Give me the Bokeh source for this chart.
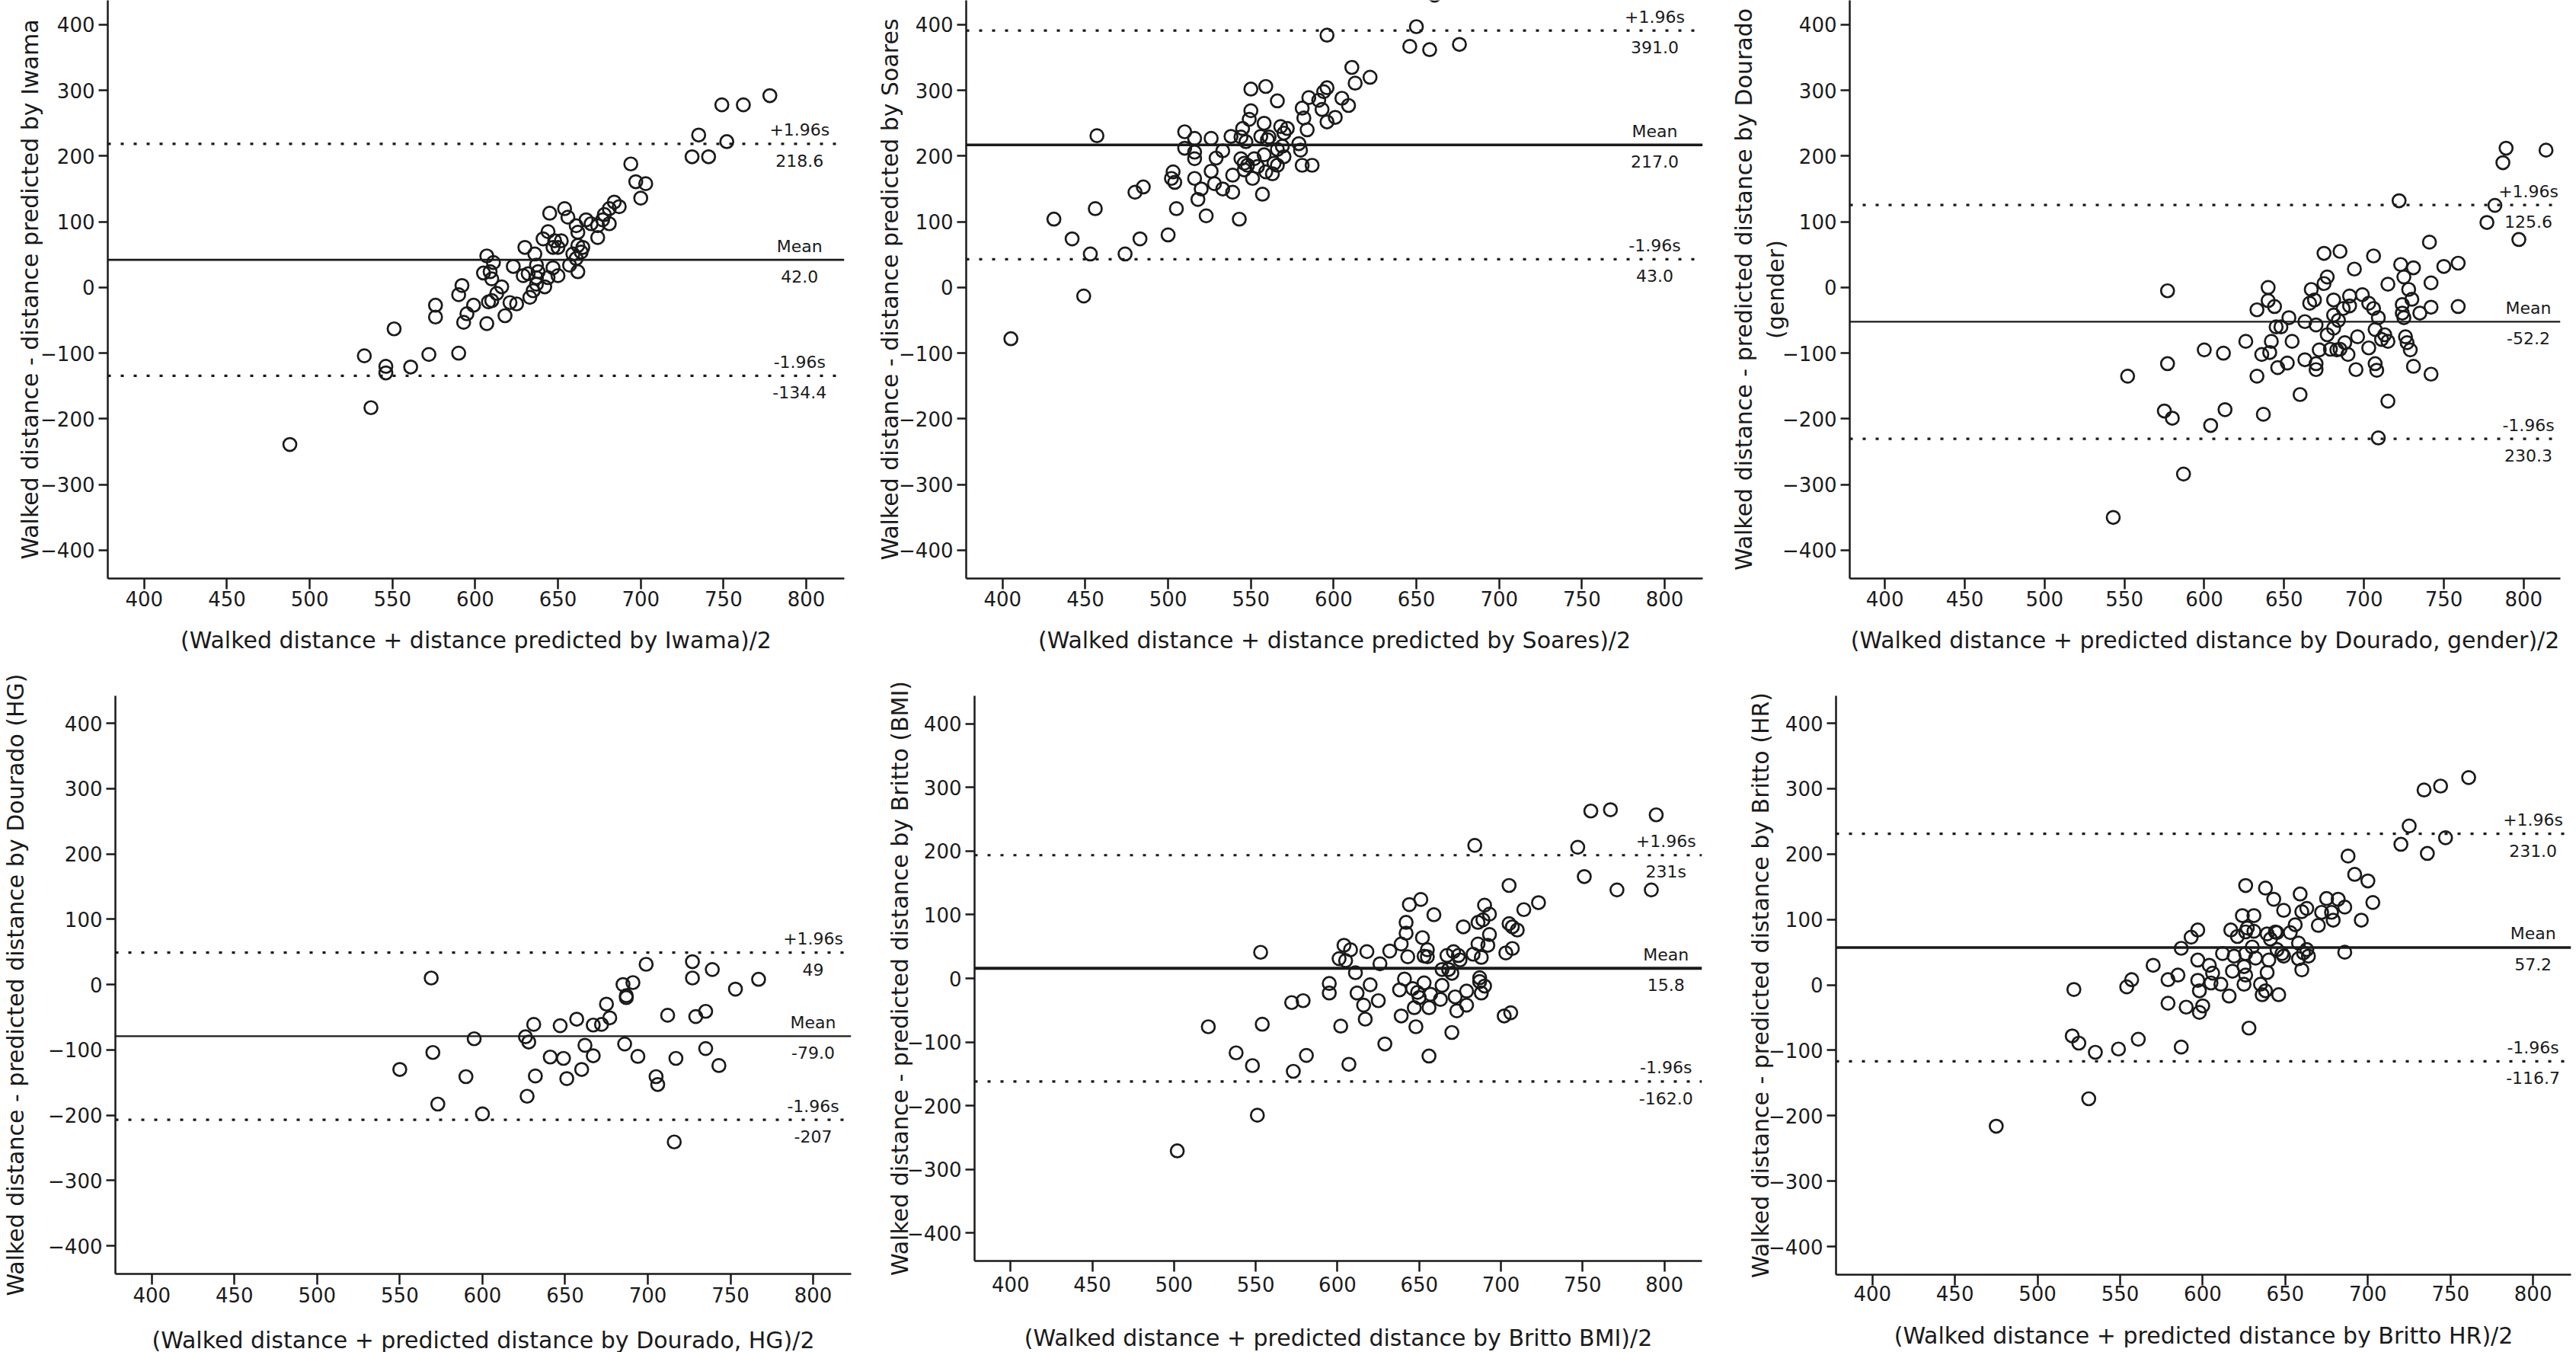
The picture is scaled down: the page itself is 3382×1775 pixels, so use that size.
from bokeh.plotting import figure
from bokeh.layouts import column, row
from bokeh.models import Span, FixedTicker, Label
from bokeh.embed import file_html
from bokeh.resources import INLINE

# ---------------- data ----------------
X_TICKS = [400, 450, 500, 550, 600, 650, 700, 750, 800]
Y_TICKS = [-400, -300, -200, -100, 0, 100, 200, 300, 400]
Y_TICK_LABELS = ["\u2212400", "\u2212300", "\u2212200", "\u2212100", "0", "100", "200", "300", "400"]

iwama_x = [488, 533, 537, 546, 546, 551, 561, 572, 576, 576, 590, 590, 592, 593, 595, 599, 607, 605, 607, 608,
           610, 609, 611, 610, 613, 616, 618, 621, 625, 623, 630, 629, 632, 633, 635, 637, 637, 636, 637, 638,
           641, 642, 644, 645, 644, 647, 647, 648, 650, 650, 652, 654, 656, 657, 659, 661, 661, 662, 662, 662,
           664, 665, 667, 670, 674, 674, 677, 678, 681, 681, 684, 687, 694, 697, 700, 703, 731, 735, 741, 749,
           752, 762, 778]
iwama_y = [-239, -104, -183, -120, -130, -63, -121, -102, -27, -45, -100, -11, 3, -53, -40, -27, 48, 22, -55, -22,
           -20, 24, 38, 13, -9, 1, -43, -23, -25, 32, 61, 18, 21, -15, -5, 5, 15, 51, 34, 24,
           74, 1, 85, 113, 15, 30, 61, 71, 61, 18, 71, 120, 107, 34, 51, 44, 94, 84, 24, 64,
           54, 61, 103, 97, 76, 94, 103, 111, 97, 120, 130, 123, 188, 161, 136, 158, 199, 232, 199, 278,
           222, 278, 292]

soares_x = [405, 431, 442, 449, 453, 456, 457, 474, 480, 483, 485, 500, 502, 503, 504, 505, 510, 510, 516, 516,
            516, 516, 518, 520, 523, 526, 526, 528, 529, 533, 533, 538, 539, 539, 543, 544, 544, 545, 546, 546,
            547, 548, 549, 550, 550, 551, 552, 554, 556, 557, 558, 558, 559, 559, 560, 561, 563, 564, 566, 566,
            566, 568, 569, 570, 570, 572, 579, 580, 581, 581, 582, 584, 585, 587, 591, 593, 594, 596, 596, 596,
            601, 605, 609, 611, 613, 622, 646, 650, 658, 661, 676]
soares_y = [-78, 104, 74, -13, 51, 120, 231, 51, 145, 74, 153, 80, 166, 176, 160, 120, 237, 212, 227, 206,
            196, 166, 134, 150, 109, 227, 177, 158, 197, 208, 150, 230, 145, 171, 104, 196, 229, 242, 189, 179,
            222, 186, 256, 269, 302, 166, 196, 184, 230, 142, 202, 250, 306, 176, 225, 229, 173, 189, 284, 210,
            186, 245, 215, 235, 199, 242, 219, 209, 273, 186, 258, 240, 289, 186, 285, 271, 298, 304, 252, 384,
            259, 288, 277, 335, 311, 320, 367, 397, 362, 445, 370]

dgender_x = [543, 552, 575, 577, 577, 580, 587, 600, 604, 612, 613, 626, 633, 633, 636, 637, 640, 640, 641, 642,
             644, 645, 646, 648, 652, 653, 655, 660, 663, 663, 666, 667, 669, 670, 670, 670, 672, 675, 675, 677,
             677, 679, 681, 681, 681, 683, 684, 685, 685, 687, 688, 690, 691, 691, 694, 696, 695, 699, 703, 703,
             706, 706, 707, 708, 707, 709, 709, 711, 713, 715, 715, 715, 722, 723, 724, 724, 725, 725, 726, 727,
             728, 729, 730, 731, 731, 735, 741, 742, 742, 742, 750, 759, 759, 777, 782, 787, 789, 797, 814]
dgender_y = [-350, -135, -188, -116, -5, -199, -284, -95, -210, -100, -186, -82, -135, -34, -102, -193, 0, -20, -99, -82,
             -29, -60, -122, -60, -115, -46, -82, -163, -52, -110, -24, -3, -19, -57, -116, -125, -95, 6, 52, 16,
             -72, -94, -19, -42, -62, -95, -50, 55, -94, -32, -84, -102, -13, -28, 28, -75, -125, -11, -24, -92,
             48, -32, -116, -126, -64, -46, -229, -79, -72, -173, 5, -82, 132, 35, -26, -39, -46, 16, -75, -84,
             -3, -95, -18, 30, -120, -39, 69, 7, -30, -132, 32, 37, -29, 99, 125, 190, 212, 73, 209]

dhg_x = [550, 569, 570, 573, 590, 595, 600, 626, 627, 628, 631, 632, 641, 647, 649, 651, 657, 660, 662, 667,
         667, 672, 675, 677, 685, 686, 687, 687, 691, 694, 699, 705, 706, 712, 717, 716, 727, 727, 729, 735,
         735, 739, 743, 753, 767]
dhg_y = [-130, 10, -104, -183, -141, -83, -198, -80, -171, -88, -61, -140, -111, -63, -113, -144, -53, -130, -93, -62,
         -109, -61, -30, -51, 0, -91, -20, -17, 3, -110, 31, -141, -153, -47, -113, -241, 10, 35, -49, -98,
         -41, 23, -124, -7, 8]

bmi_x = [502, 521, 538, 548, 551, 553, 554, 572, 573, 579, 581, 595, 595, 601, 602, 604, 605, 607, 608, 611,
         612, 616, 617, 618, 620, 625, 626, 629, 632, 638, 639, 639, 641, 642, 642, 643, 644, 646, 647, 648,
         649, 650, 651, 652, 653, 653, 655, 655, 656, 656, 657, 659, 663, 664, 664, 667, 668, 670, 670, 671,
         672, 673, 674, 675, 677, 679, 679, 683, 684, 686, 686, 687, 687, 688, 688, 689, 690, 690, 692, 693,
         693, 702, 703, 705, 705, 706, 707, 707, 710, 714, 723, 747, 751, 755, 767, 771, 792, 795]
bmi_y = [-271, -76, -117, -137, -215, 41, -72, -38, -146, -35, -121, -8, -23, 31, -75, 52, 28, -135, 45, 9,
         -23, -42, -64, 42, -10, -35, 23, -103, 43, -18, -59, 54, -1, 88, 71, 34, 116, -16, -46, -76,
         -22, -30, 124, 64, 35, -7, 45, 34, -122, -46, -25, 100, -33, -11, 14, 36, 14, -85, 8, 42,
         -29, -51, 36, 29, 81, -20, -42, 38, 209, 88, 54, 1, -5, -23, 33, 92, -12, 115, 52, 101,
         69, -59, 40, 146, 86, -54, 81, 47, 76, 108, 119, 206, 160, 263, 265, 139, 139, 257]

hr_x = [475, 521, 522, 525, 531, 535, 549, 554, 557, 561, 570, 579, 579, 585, 587, 587, 590, 593, 597, 597,
        597, 598, 598, 600, 604, 605, 606, 611, 612, 616, 617, 618, 619, 621, 624, 625, 625, 626, 626, 626,
        626, 627, 628, 630, 631, 631, 632, 635, 636, 638, 638, 639, 639, 640, 641, 643, 644, 645, 645, 646,
        648, 649, 649, 653, 656, 658, 658, 659, 660, 660, 661, 663, 663, 664, 670, 672, 675, 678, 679, 682,
        686, 686, 688, 692, 696, 700, 703, 720, 725, 736, 734, 744, 747, 761]
hr_y = [-216, -78, -7, -89, -174, -103, -98, -3, 8, -83, 30, -28, 8, 15, -95, 56, -34, 73, 38, 84,
        7, -9, -42, -32, 30, 3, 18, 1, 48, -17, 84, 21, 44, 74, 106, 28, 1, 152, 81, 15,
        48, 87, -66, 58, 82, 106, 41, 1, -15, 148, -9, 78, 19, 38, 70, 131, 81, 54, 80, -15,
        48, 114, 44, 80, 92, 40, 64, 139, 112, 23, 49, 54, 117, 44, 91, 111, 132, 111, 99, 131,
        119, 50, 197, 169, 99, 159, 126, 215, 243, 201, 298, 304, 225, 317]

# limits of agreement: [+1.96s, mean, -1.96s]
iwama_lines = [218.6, 42.0, -134.4]
soares_lines = [391.0, 217.0, 43.0]
dgender_lines = [125.6, -52.2, -230.3]
dhg_lines = [49.0, -79.0, -207.0]
bmi_lines = [193.6, 15.8, -162.0]
hr_lines = [231.0, 57.2, -116.7]

line_names = ["+1.96s", "Mean", "-1.96s"]
iwama_values = ["218.6", "42.0", "-134.4"]
soares_values = ["391.0", "217.0", "43.0"]
dgender_values = ["125.6", "-52.2", "230.3"]
dhg_values = ["49", "-79.0", "-207"]
bmi_values = ["231s", "15.8", "-162.0"]
hr_values = ["231.0", "57.2", "-116.7"]

x_titles = [
    "(Walked distance + distance predicted by Iwama)/2",
    "(Walked distance + distance predicted by Soares)/2",
    "(Walked distance + predicted distance by Dourado, gender)/2",
    "(Walked distance + predicted distance by Dourado, HG)/2",
    "(Walked distance + predicted distance by Britto BMI)/2",
    "(Walked distance + predicted distance by Britto HR)/2",
]
y_titles = [
    "Walked distance - distance predicted by Iwama",
    "Walked distance - distance predicted by Soares",
    "Walked distance - predicted distance by Dourado\n(gender)",
    "Walked distance - predicted distance by Dourado (HG)",
    "Walked distance - predicted distance by Britto (BMI)",
    "Walked distance - predicted distance by Britto (HR)",
]

# ---------------- styling / layout ----------------
FONT = "DejaVu Sans"
INK = "#1a1a1a"
X_RANGE = (378, 823)

# geometry per panel: frame size, borders, y-range, label x centre, mean line width,
# y-title standoff, x tick-label standoff, x-title standoff
GEO = [
    dict(fw=967, fh=759, bl=141, br=8, bt=0, bb=95, yr=(-443, 437), lx=796, mw=2.8, ys=-7, xs=2, xts=24),
    dict(fw=967, fh=759, bl=152, br=8, bt=0, bb=95, yr=(-443, 437), lx=794, mw=3.5, ys=-9, xs=2, xts=24),
    dict(fw=933, fh=759, bl=185, br=3, bt=0, bb=95, yr=(-443, 437), lx=803, mw=2.2, ys=-12, xs=2, xts=24),
    dict(fw=966, fh=759, bl=140, br=8, bt=49, bb=97, yr=(-443, 442), lx=800, mw=2.2, ys=22, xs=3, xts=29),
    dict(fw=955, fh=742, bl=154, br=8, bt=53, bb=110, yr=(-444, 444), lx=801, mw=4.0, ys=-11, xs=6, xts=40),
    dict(fw=965, fh=760, bl=168, br=1, bt=49, bb=96, yr=(-443, 442), lx=800, mw=3.5, ys=-10, xs=0, xts=25),
]


def make_panel(xs, ys, lines, values, x_title, y_title, g):
    p = figure(frame_width=g["fw"], frame_height=g["fh"], x_range=X_RANGE, y_range=g["yr"],
               output_backend="svg", toolbar_location=None,
               min_border_left=g["bl"], min_border_right=g["br"],
               min_border_top=g["bt"], min_border_bottom=g["bb"])
    p.outline_line_color = None
    p.xgrid.visible = False
    p.ygrid.visible = False
    p.background_fill_color = "white"
    p.border_fill_color = "white"

    p.xaxis.ticker = FixedTicker(ticks=X_TICKS)
    p.yaxis.ticker = FixedTicker(ticks=Y_TICKS)
    p.yaxis.major_label_overrides = {t: lab for t, lab in zip(Y_TICKS, Y_TICK_LABELS)}
    for ax in (p.xaxis, p.yaxis):
        ax.axis_line_width = 2.5
        ax.axis_line_color = INK
        ax.major_tick_line_width = 2.5
        ax.major_tick_line_color = INK
        ax.major_tick_in = 0
        ax.minor_tick_line_color = None
        ax.major_label_text_font = FONT
        ax.major_label_text_font_size = "26px"
        ax.major_label_text_color = INK
        ax.axis_label_text_font = FONT
        ax.axis_label_text_font_size = "30px"
        ax.axis_label_text_font_style = "normal"
        ax.axis_label_text_color = INK
    p.xaxis.major_tick_out = 14
    p.yaxis.major_tick_out = 12
    p.xaxis.major_label_standoff = g["xs"]
    p.yaxis.major_label_standoff = 5
    p.xaxis.axis_label_standoff = g["xts"]
    p.yaxis.axis_label_standoff = g["ys"]
    p.xaxis.axis_label = x_title
    p.yaxis.axis_label = y_title

    # limits of agreement and mean
    p.add_layout(Span(location=lines[0], dimension="width", line_color=INK,
                      line_width=3.2, line_dash="4 13"))
    p.add_layout(Span(location=lines[1], dimension="width", line_color=INK,
                      line_width=g["mw"]))
    p.add_layout(Span(location=lines[2], dimension="width", line_color=INK,
                      line_width=3.2, line_dash="4 13"))

    p.scatter(xs, ys, marker="circle", size=17, fill_color=None,
              line_color=INK, line_width=2.7)

    for loc, name, val in zip(lines, line_names, values):
        p.add_layout(Label(x=g["lx"], y=loc, y_offset=18, text=name, text_align="center",
                           text_baseline="middle", text_font=FONT, text_font_size="22px",
                           text_color=INK))
        p.add_layout(Label(x=g["lx"], y=loc, y_offset=-22, text=val, text_align="center",
                           text_baseline="middle", text_font=FONT, text_font_size="22px",
                           text_color=INK))
    return p


panels = [
    (iwama_x, iwama_y, iwama_lines, iwama_values),
    (soares_x, soares_y, soares_lines, soares_values),
    (dgender_x, dgender_y, dgender_lines, dgender_values),
    (dhg_x, dhg_y, dhg_lines, dhg_values),
    (bmi_x, bmi_y, bmi_lines, bmi_values),
    (hr_x, hr_y, hr_lines, hr_values),
]

figs = [make_panel(xs, ys, ln, vals, x_titles[i], y_titles[i], GEO[i])
        for i, (xs, ys, ln, vals) in enumerate(panels)]

layout = column(row(figs[0], figs[1], figs[2]), row(figs[3], figs[4], figs[5]))

open("out.html", "w").write(file_html(layout, INLINE))
